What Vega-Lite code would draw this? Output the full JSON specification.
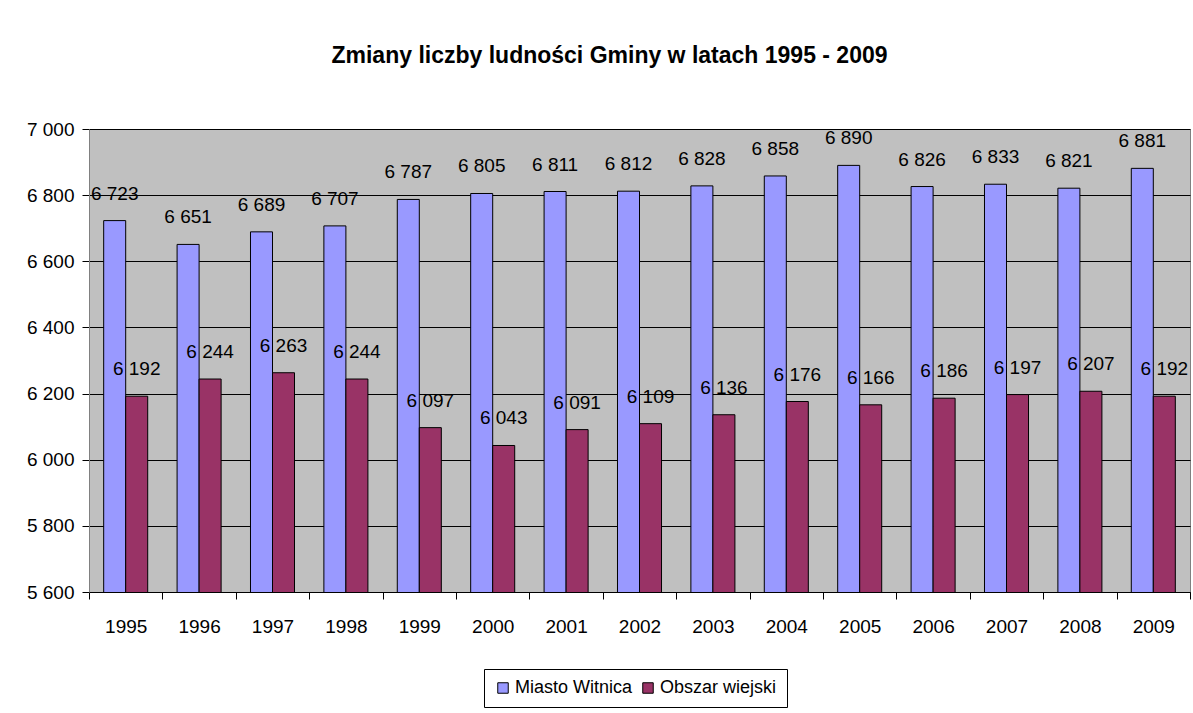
{
  "$schema": "https://vega.github.io/schema/vega-lite/v6.json",
  "width": 1101,
  "height": 463,
  "autosize": "none",
  "padding": {"left": 89, "top": 129, "right": 3, "bottom": 121},
  "background": "white",
  "title": {
    "text": "Zmiany liczby ludności Gminy w latach 1995 - 2009",
    "font": "Liberation Sans",
    "fontSize": 23,
    "fontWeight": "bold",
    "color": "black",
    "anchor": "middle",
    "baseline": "alphabetic",
    "offset": 34,
    "dx": -30
  },
  "data": {
    "values": [
      {"year": "1995", "series": "Miasto Witnica", "value": 6723},
      {"year": "1996", "series": "Miasto Witnica", "value": 6651},
      {"year": "1997", "series": "Miasto Witnica", "value": 6689},
      {"year": "1998", "series": "Miasto Witnica", "value": 6707},
      {"year": "1999", "series": "Miasto Witnica", "value": 6787},
      {"year": "2000", "series": "Miasto Witnica", "value": 6805},
      {"year": "2001", "series": "Miasto Witnica", "value": 6811},
      {"year": "2002", "series": "Miasto Witnica", "value": 6812},
      {"year": "2003", "series": "Miasto Witnica", "value": 6828},
      {"year": "2004", "series": "Miasto Witnica", "value": 6858},
      {"year": "2005", "series": "Miasto Witnica", "value": 6890},
      {"year": "2006", "series": "Miasto Witnica", "value": 6826},
      {"year": "2007", "series": "Miasto Witnica", "value": 6833},
      {"year": "2008", "series": "Miasto Witnica", "value": 6821},
      {"year": "2009", "series": "Miasto Witnica", "value": 6881},
      {"year": "1995", "series": "Obszar wiejski", "value": 6192},
      {"year": "1996", "series": "Obszar wiejski", "value": 6244},
      {"year": "1997", "series": "Obszar wiejski", "value": 6263},
      {"year": "1998", "series": "Obszar wiejski", "value": 6244},
      {"year": "1999", "series": "Obszar wiejski", "value": 6097},
      {"year": "2000", "series": "Obszar wiejski", "value": 6043},
      {"year": "2001", "series": "Obszar wiejski", "value": 6091},
      {"year": "2002", "series": "Obszar wiejski", "value": 6109},
      {"year": "2003", "series": "Obszar wiejski", "value": 6136},
      {"year": "2004", "series": "Obszar wiejski", "value": 6176},
      {"year": "2005", "series": "Obszar wiejski", "value": 6166},
      {"year": "2006", "series": "Obszar wiejski", "value": 6186},
      {"year": "2007", "series": "Obszar wiejski", "value": 6197},
      {"year": "2008", "series": "Obszar wiejski", "value": 6207},
      {"year": "2009", "series": "Obszar wiejski", "value": 6192}
    ]
  },
  "encoding": {
    "x": {
      "field": "year",
      "type": "nominal",
      "scale": {"paddingInner": 0, "paddingOuter": 0},
      "axis": {
        "title": null,
        "labelAngle": 0,
        "labelFont": "Liberation Sans",
        "labelFontSize": 19,
        "labelColor": "black",
        "labelPadding": 18,
        "tickBand": "extent",
        "tickSize": 7,
        "tickColor": "black",
        "domainColor": "black",
        "grid": false
      }
    },
    "xOffset": {
      "field": "series",
      "type": "nominal",
      "scale": {"paddingInner": 0, "paddingOuter": 0.667}
    },
    "y": {
      "field": "value",
      "type": "quantitative",
      "scale": {"domain": [5600, 7000], "zero": false, "nice": false},
      "axis": {
        "title": null,
        "values": [5600, 5800, 6000, 6200, 6400, 6600, 6800, 7000],
        "format": ",d",
        "labelFont": "Liberation Sans",
        "labelFontSize": 19,
        "labelColor": "black",
        "labelPadding": 8,
        "tickSize": 7,
        "tickColor": "black",
        "domainColor": "#808080",
        "grid": true,
        "gridColor": "black",
        "gridOpacity": 1,
        "gridWidth": 1
      }
    }
  },
  "layer": [
    {
      "mark": {"type": "bar", "stroke": "black", "strokeWidth": 1, "clip": true},
      "encoding": {
        "color": {
          "field": "series",
          "type": "nominal",
          "scale": {"domain": ["Miasto Witnica", "Obszar wiejski"], "range": ["#9999FF", "#993366"]},
          "legend": {
            "title": null,
            "orient": "none",
            "legendX": 395,
            "legendY": 540,
            "direction": "horizontal",
            "symbolType": "square",
            "symbolSize": 110,
            "symbolStrokeColor": "black",
            "symbolStrokeWidth": 1,
            "labelFont": "Liberation Sans",
            "labelFontSize": 18,
            "labelColor": "black",
            "labelOffset": 3,
            "columnPadding": 6,
            "strokeColor": "black",
            "padding": 10,
            "fillColor": "white"
          }
        }
      }
    },
    {
      "mark": {"type": "text", "font": "Liberation Sans", "fontSize": 19, "color": "black", "baseline": "middle", "dy": -27},
      "encoding": {
        "text": {"field": "value", "type": "quantitative", "format": ",d"}
      }
    }
  ],
  "config": {
    "locale": {"number": {"decimal": ",", "thousands": " ", "grouping": [3], "currency": ["", " zł"]}},
    "view": {"fill": "#C0C0C0", "stroke": "#808080", "strokeWidth": 1}
  }
}
